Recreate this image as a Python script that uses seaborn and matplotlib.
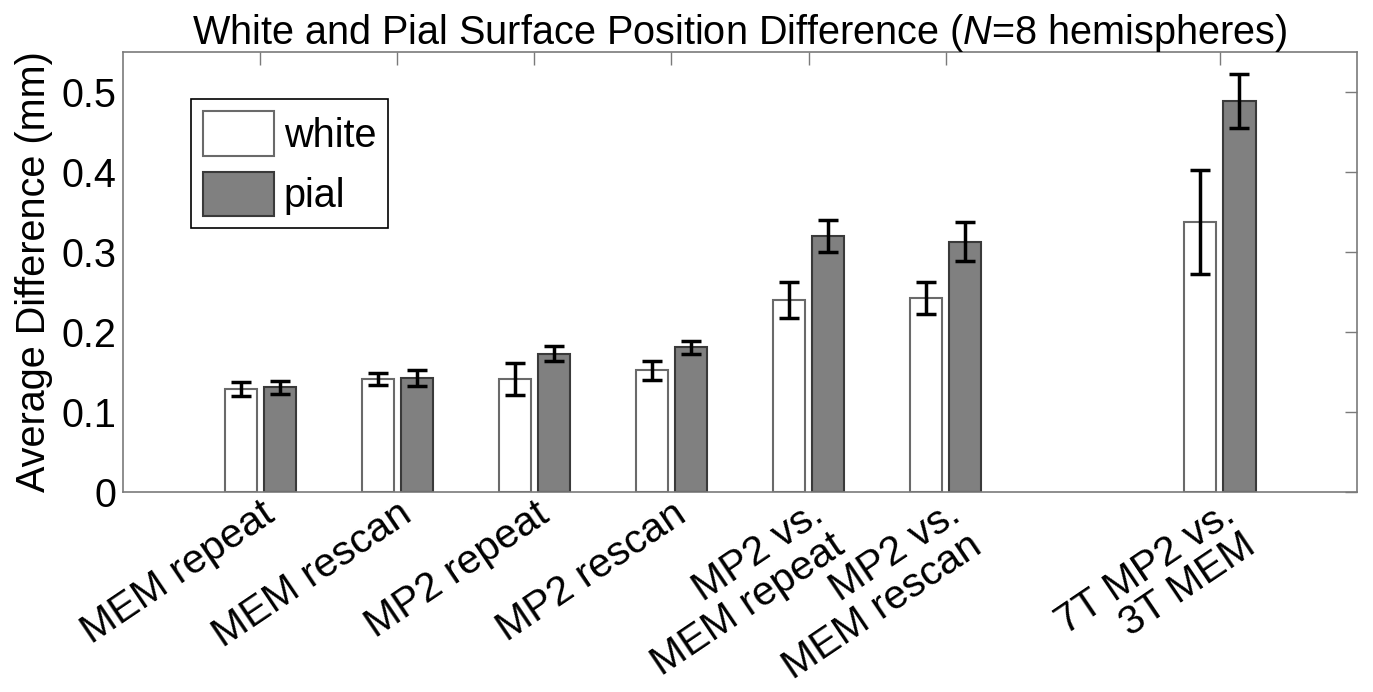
import matplotlib
matplotlib.use("Agg")
import matplotlib.pyplot as plt
import seaborn as sns
import pandas as pd

# ---- data ----
conditions = ["MEM repeat", "MEM rescan", "MP2 repeat", "MP2 rescan",
              "MP2 vs.\nMEM repeat", "MP2 vs.\nMEM rescan", "7T MP2 vs.\n3T MEM"]
white_mean = [0.129, 0.141, 0.141, 0.152, 0.240, 0.242, 0.338]
white_err = [0.009, 0.0075, 0.020, 0.012, 0.023, 0.020, 0.065]
pial_mean = [0.131, 0.142, 0.173, 0.181, 0.320, 0.313, 0.489]
pial_err = [0.008, 0.010, 0.009, 0.008, 0.020, 0.024, 0.034]
surfaces = ["white", "pial"]
ytick_values = [0, 0.1, 0.2, 0.3, 0.4, 0.5]
ytick_labels = ["0", "0.1", "0.2", "0.3", "0.4", "0.5"]
title = r"White and Pial Surface Position Difference ($\mathit{N}$=8 hemispheres)"
ylabel = "Average Difference (mm)"

# empty slot before the last group (gap on the category axis)
order = conditions[:6] + [" "] + conditions[6:]

df = pd.DataFrame({
    "condition": conditions * 2,
    "surface": ["white"] * len(conditions) + ["pial"] * len(conditions),
    "mean": white_mean + pial_mean,
})
errs = {"white": dict(zip(conditions, white_err)),
        "pial": dict(zip(conditions, pial_err))}

sns.set_style("white")
plt.rcParams["font.family"] = ["Liberation Sans", "DejaVu Sans"]
plt.rcParams["mathtext.fontset"] = "custom"
plt.rcParams["mathtext.rm"] = "Liberation Sans"
plt.rcParams["mathtext.it"] = "Liberation Sans:italic"
plt.rcParams["text.color"] = "black"
plt.rcParams["axes.labelcolor"] = "black"
plt.rcParams["xtick.color"] = "black"
plt.rcParams["ytick.color"] = "black"

FS = 28.5
fig = plt.figure(figsize=(13.73, 6.92), dpi=100)
ax = fig.add_axes([0.0896, 0.289, 0.8988, 0.636])

sns.barplot(data=df, x="condition", y="mean", hue="surface", order=order,
            hue_order=surfaces, palette={"white": "#ffffff", "pial": "#808080"},
            width=0.57, gap=0.18, errorbar=None, saturation=1,
            linewidth=1.5, legend=False, ax=ax)

edge_cols = {"white": "#6a6a6a", "pial": "#3a3a3a"}
for surf, cont in zip(surfaces, ax.containers):
    for bar in cont.patches:
        bar.set_edgecolor(edge_cols[surf])
        bar.set_linewidth(1.5)
        xc = bar.get_x() + bar.get_width() / 2
        cond = order[int(round(xc))]
        ax.errorbar(xc, bar.get_height(), yerr=errs[surf][cond], fmt="none",
                    ecolor="black", elinewidth=2.5, capsize=7, capthick=2.5,
                    zorder=5)

ax.set_xlim(-1, 8)
ax.set_ylim(0, 0.55)
ticks = [i for i, lab in enumerate(order) if lab.strip()]
ax.set_xticks(ticks, labels=[order[i] for i in ticks], rotation=34,
              ha="right", va="top", rotation_mode="anchor",
              multialignment="right", fontsize=29.5, color="black",
              linespacing=1.0)
ax.set_yticks(ytick_values, labels=ytick_labels, fontsize=FS, color="black")
ax.tick_params(axis="both", direction="in", top=True, right=True,
               length=9, width=1, color="#7a7a7a", labelcolor="black")
ax.tick_params(axis="y", pad=5)
ax.tick_params(axis="x", pad=2)
for sp in ax.spines.values():
    sp.set_visible(True)
    sp.set_color("#7a7a7a")
    sp.set_linewidth(1.2)

ax.set_xlabel("")
ax.set_ylabel(ylabel, fontsize=FS, labelpad=6, color="black")
ax.set_title(title, fontsize=FS, pad=6, color="black")

leg = ax.legend(ax.containers, surfaces, loc="upper left",
                bbox_to_anchor=(0.055, 0.892), borderaxespad=0,
                frameon=True, fancybox=False, framealpha=1,
                edgecolor="black", handlelength=1.8, handleheight=1.35,
                handletextpad=0.25, labelspacing=0.4, borderpad=0.3,
                fontsize=FS)
leg.get_frame().set_linewidth(1.2)
for t in leg.get_texts():
    t.set_color("black")

fig.savefig("out.png", dpi=100)
